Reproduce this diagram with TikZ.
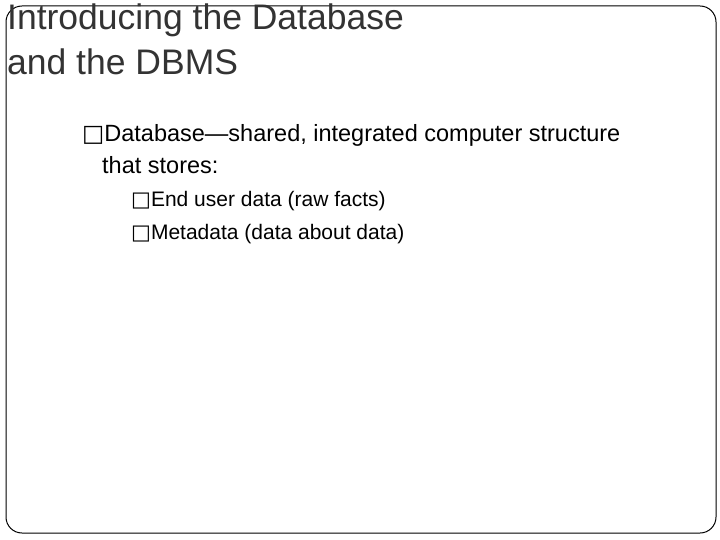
\documentclass[tikz,border=0pt]{standalone}
\usepackage{fontspec}
\setmainfont{Liberation Sans}
\newfontfamily\boxfont{DejaVu Sans}
\newcommand{\bulletbox}{{\boxfont\char"25A1}}
\begin{document}
\begin{tikzpicture}[x=1pt,y=-1pt,
  titletext/.style={anchor=base west,inner sep=0pt,font=\fontsize{35.5}{40}\selectfont,text=black!80},
  bullettext/.style={anchor=base west,inner sep=0pt,font=\fontsize{23.5}{28}\selectfont},
  subtext/.style={anchor=base west,inner sep=0pt,font=\fontsize{21}{25}\selectfont}]
\useasboundingbox (0,0) rectangle (720,540);
\draw[line width=1pt,rounded corners=16pt] (6,6) rectangle (716,533);
\node[titletext] (title1) at (7,30) {Introducing the Database};
\node[titletext] (title2) at (7,75) {and the DBMS};
\node[bullettext] (item1) at (82,142) {\bulletbox Database---shared, integrated computer structure};
\node[bullettext] (item1b) at (102,174) {that stores:};
\node[subtext] (item2) at (131,207) {\bulletbox End user data (raw facts)};
\node[subtext] (item3) at (131,240) {\bulletbox Metadata (data about data)};
\end{tikzpicture}
\end{document}
